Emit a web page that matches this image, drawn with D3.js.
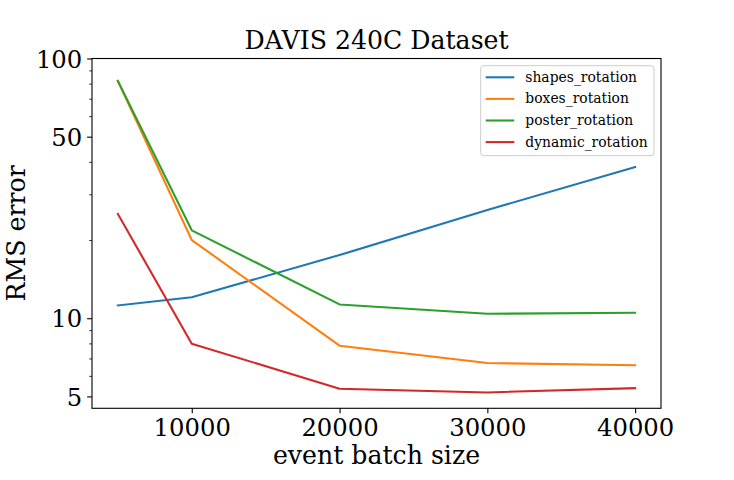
<!DOCTYPE html>
<html>
<head>
<meta charset="utf-8">
<script src="https://cdn.jsdelivr.net/npm/d3@7"></script>
<style>
  html, body { margin: 0; padding: 0; background: #fff; }
  svg { display: block; }
  text { font-family: "DejaVu Serif", serif; fill: #000; }
</style>
</head>
<body>
<svg id="chart" width="734" height="480"></svg>
<script>
// ---- data ----
const batchSizes = [5000, 10000, 20000, 30000, 40000];
const seriesNames = ["shapes_rotation", "boxes_rotation", "poster_rotation", "dynamic_rotation"];
const shapesRotation  = [11.2, 12.05, 17.5, 26.1, 38.2];
const boxesRotation   = [82.0, 20.0, 7.84, 6.72, 6.59];
const posterRotation  = [82.0, 21.8, 11.3, 10.4, 10.5];
const dynamicRotation = [25.2, 7.98, 5.35, 5.18, 5.38];
const xTickValues = [10000, 20000, 30000, 40000];
const yTickLabels = [5, 10, 50, 100];
const colors = ["#1f77b4", "#ff7f0e", "#2ca02c", "#d62728"];

const seriesValues = [shapesRotation, boxesRotation, posterRotation, dynamicRotation];

// ---- layout ----
const svg = d3.select("#chart");
const L = 92, R = 661, T = 58.5, B = 408.3;

const x = d3.scaleLinear().domain([3250, 41750]).range([L, R]);
const y = d3.scaleLog().domain([4.5, 100]).range([B, T]);

const fs = 24.3;
const fsLabel = 25.2;

// lines
const line = d3.line().x((d, i) => x(batchSizes[i])).y(d => y(d));
const plot = svg.append("g");
seriesValues.forEach((vals, k) => {
  plot.append("path")
    .datum(vals)
    .attr("d", line)
    .attr("fill", "none")
    .attr("stroke", colors[k])
    .attr("stroke-width", 2.08)
    .attr("stroke-linejoin", "round")
    .attr("stroke-linecap", "square");
});

// x axis
const xAxis = d3.axisBottom(x).tickValues(xTickValues).tickFormat(d3.format("d"))
  .tickSize(4.86).tickPadding(4.86);
const gx = svg.append("g").attr("transform", `translate(0,${B})`).call(xAxis);
gx.select(".domain").remove();
gx.selectAll(".tick line").attr("stroke", "#000").attr("stroke-width", 1.1);
gx.selectAll(".tick text").attr("font-size", fs).attr("font-family", "DejaVu Serif")
  .attr("dy", null).attr("y", 27.8);

// y axis: major (labelled) + minor
const minorVals = [];
[1, 10].forEach(dec => { for (let m = 2; m <= 9; m++) { const v = m * dec; if (v >= 4.5 && v <= 100 && !yTickLabels.includes(v)) minorVals.push(v); } });
const yMinor = d3.axisLeft(y).tickValues(minorVals).tickFormat("").tickSize(2.78);
const gym = svg.append("g").attr("transform", `translate(${L},0)`).call(yMinor);
gym.select(".domain").remove();
gym.selectAll(".tick line").attr("stroke", "#000").attr("stroke-width", 0.8);

const yAxis = d3.axisLeft(y).tickValues(yTickLabels).tickFormat(d3.format("d"))
  .tickSize(4.86).tickPadding(4.86);
const gy = svg.append("g").attr("transform", `translate(${L},0)`).call(yAxis);
gy.select(".domain").remove();
gy.selectAll(".tick line").attr("stroke", "#000").attr("stroke-width", 1.1);
gy.selectAll(".tick text").attr("font-size", fs).attr("font-family", "DejaVu Serif")
  .attr("dy", "0.36em");

// spines
svg.append("rect").attr("x", L).attr("y", T).attr("width", R - L).attr("height", B - T)
  .attr("fill", "none").attr("stroke", "#000").attr("stroke-width", 1.1);

// title & labels
svg.append("text").attr("x", (L + R) / 2).attr("y", 49).attr("text-anchor", "middle")
  .attr("font-size", fsLabel).text("DAVIS 240C Dataset");
svg.append("text").attr("x", (L + R) / 2).attr("y", 464).attr("text-anchor", "middle")
  .attr("font-size", fsLabel).text("event batch size");
svg.append("text").attr("transform", `translate(24.5,${(T + B) / 2}) rotate(-90)`)
  .attr("text-anchor", "middle").attr("font-size", fsLabel).text("RMS error");

// legend
const lg = svg.append("g");
lg.append("rect").attr("x", 480.7).attr("y", 65.7).attr("width", 173.3).attr("height", 90)
  .attr("rx", 3).attr("ry", 3)
  .attr("fill", "#fff").attr("fill-opacity", 0.8).attr("stroke", "#cccccc").attr("stroke-width", 1);
seriesNames.forEach((name, k) => {
  const cy = 77.3 + k * 21.6;
  lg.append("line").attr("x1", 485.7).attr("x2", 514.3).attr("y1", cy).attr("y2", cy)
    .attr("stroke", colors[k]).attr("stroke-width", 2.08);
  lg.append("text").attr("x", 525.3).attr("y", cy).attr("dy", "0.32em")
    .attr("font-size", 13.9).text(name);
});
</script>
</body>
</html>
